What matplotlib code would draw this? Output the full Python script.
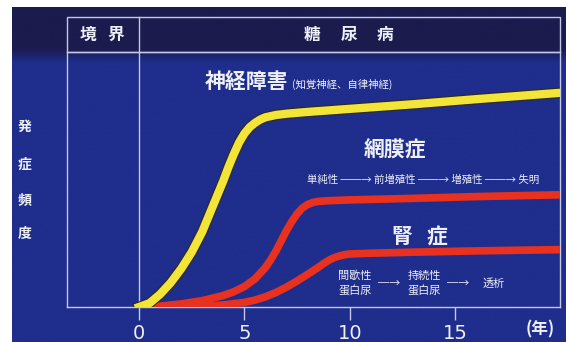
import numpy as np
import matplotlib
matplotlib.use("Agg")
import matplotlib.pyplot as plt
import matplotlib.colors as mcolors
from matplotlib import patheffects as pe
from matplotlib.patches import Rectangle

plt.rcParams["font.family"] = ["Noto Sans CJK JP", "DejaVu Sans"]

# ================= データ =================
# 横軸: 年, 縦軸: 発症頻度（相対値 0-1）
years_nerve = [0, 0.5, 1, 1.5, 2, 2.5, 3, 3.5, 4, 4.25, 4.5, 4.75, 5, 5.25, 5.5, 5.75,
               6, 6.5, 7, 8, 10, 13, 16, 20]
freq_nerve = [0.0, 0.015, 0.05, 0.095, 0.15, 0.215, 0.295, 0.395, 0.495, 0.55, 0.60, 0.645,
              0.68, 0.705, 0.722, 0.735, 0.744, 0.753, 0.758, 0.765, 0.777, 0.795, 0.815, 0.84]

years_retina = [0.5, 1, 2, 3, 4, 4.5, 5, 5.5, 6, 6.25, 6.5, 6.75, 7, 7.25, 7.5, 7.75, 8,
                8.25, 8.5, 9, 10, 13, 16, 20]
freq_retina = [0.0, 0.003, 0.012, 0.025, 0.045, 0.06, 0.08, 0.11, 0.155, 0.185, 0.22, 0.26,
               0.30, 0.335, 0.365, 0.388, 0.402, 0.41, 0.414, 0.417, 0.42, 0.426, 0.433, 0.44]

years_kidney = [2, 3, 4, 5, 5.5, 6, 6.5, 7, 7.5, 8, 8.5, 8.75, 9, 9.25, 9.5, 9.75, 10, 11,
                13, 16, 20]
freq_kidney = [0.0, 0.003, 0.008, 0.018, 0.027, 0.04, 0.057, 0.078, 0.102, 0.128, 0.155, 0.17,
               0.183, 0.193, 0.2, 0.205, 0.208, 0.211, 0.215, 0.22, 0.225]

xticks = [0, 5, 10, 15]
header_left = ["境", "界"]
header_right = ["糖", "尿", "病"]
ylabel_chars = ["発", "症", "頻", "度"]

# ================= 配色 =================
W, H = 566, 342
BG_BLUE = "#1f2d8c"
BG_DARK = "#1b1b4e"
LINE = "#c3c9e4"
TXT = "#eef0f8"
YELLOW = "#f3e43a"
RED = "#e8321f"

fig = plt.figure(figsize=(W / 100, H / 100), dpi=100, facecolor="white")

# 背景（ピクセル座標）
bg = fig.add_axes([0, 0, 1, 1])
bg.set_xlim(0, W)
bg.set_ylim(H, 0)
bg.axis("off")
rows = np.linspace(7, H, 200)
t = np.clip((rows - 48) / 14, 0, 1)
c0 = np.array(mcolors.to_rgb(BG_DARK))
c1 = np.array(mcolors.to_rgb(BG_BLUE))
grad = c0[None, :] * (1 - t)[:, None] + c1[None, :] * t[:, None]
bg.imshow(grad[:, None, :], extent=(12, W, H, 7), aspect="auto", zorder=0)

# ================= グラフ本体 =================
ax = fig.add_axes([67 / W, (H - 307) / H, (560 - 67) / W, (307 - 52) / H])
ax.set_xlim(-3.42, 19.98)
ax.set_ylim(0, 1)
ax.patch.set_alpha(0)
for s in ax.spines.values():
    s.set_color(LINE)
    s.set_linewidth(1)
ax.set_yticks([])
ax.set_xticks(xticks)
ax.set_xticklabels([str(v) for v in xticks], family="DejaVu Sans")
ax.tick_params(axis="x", direction="out", length=9, width=1, color=LINE,
               labelcolor=TXT, labelsize=14, pad=3)

# 境界 / 糖尿病 の区切り
ax.axvline(0, color=LINE, lw=1, zorder=2)
hdr = 35 / 255
ax.add_patch(Rectangle((0, 1), 1, hdr, transform=ax.transAxes, fill=False,
                       edgecolor=LINE, lw=1, clip_on=False))
ax.plot([0, 0], [1, 1 + hdr], color=LINE, lw=1, clip_on=False,
        transform=ax.get_xaxis_transform())

# 曲線
ax.plot(years_kidney, freq_kidney, color=RED, lw=5.5, solid_joinstyle="round",
        solid_capstyle="round", zorder=3)
ax.plot(years_retina, freq_retina, color=RED, lw=5.5, solid_joinstyle="round",
        solid_capstyle="round", zorder=3)
ax.plot(years_nerve, freq_nerve, color=YELLOW, lw=6, solid_joinstyle="round", zorder=4,
        path_effects=[pe.Stroke(linewidth=7.5, foreground="#2e2a18"), pe.Normal()])

# ================= 文字 =================
for ch, x in zip(header_left, [88, 116]):
    bg.text(x, 35, ch, color=TXT, fontsize=12, fontweight="bold", ha="center", va="center")
for ch, x in zip(header_right, [312, 349, 385]):
    bg.text(x, 35, ch, color=TXT, fontsize=12, fontweight="bold", ha="center", va="center")
for ch, y in zip(ylabel_chars, [127, 165, 200, 234]):
    bg.text(25, y, ch, color=TXT, fontsize=10, fontweight="bold", ha="center", va="center")

bg.text(205, 88, "神経障害", color=TXT, fontsize=15, fontweight="bold", ha="left", va="baseline")
bg.text(292, 88, "(知覚神経、自律神経)", color=TXT, fontsize=7.5, ha="left", va="baseline")

bg.text(395, 150, "網膜症", color=TXT, fontsize=15, fontweight="bold", ha="center", va="center")
bg.text(423, 180, "単純性 ──→ 前増殖性 ──→ 増殖性 ──→ 失明", color=TXT, fontsize=7.5,
        ha="center", va="center")

bg.text(402, 236, "腎", color=TXT, fontsize=15, fontweight="bold", ha="center", va="center")
bg.text(437, 236, "症", color=TXT, fontsize=15, fontweight="bold", ha="center", va="center")

bg.text(355, 284, "間歇性\n蛋白尿", color=TXT, fontsize=8, ha="center", va="center",
        linespacing=1.5)
bg.text(389, 284, "─→", color=TXT, fontsize=8, ha="center", va="center")
bg.text(424, 284, "持続性\n蛋白尿", color=TXT, fontsize=8, ha="center", va="center",
        linespacing=1.5)
bg.text(458, 284, "─→", color=TXT, fontsize=8, ha="center", va="center")
bg.text(494, 284, "透析", color=TXT, fontsize=8, ha="center", va="center")

bg.text(540, 329, "(年)", color=TXT, fontsize=12, fontweight="bold", ha="center", va="center")

fig.savefig("out.png", dpi=100, facecolor="white")
